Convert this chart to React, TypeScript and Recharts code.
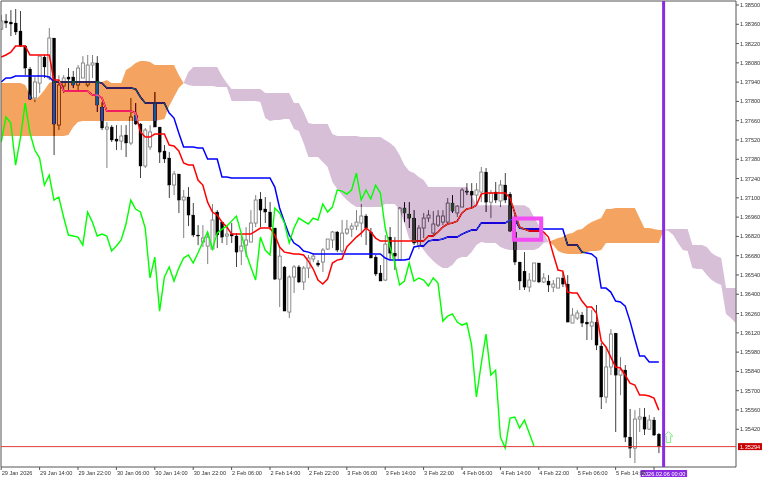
import * as React from "react"
import {
  Area,
  Bar,
  ComposedChart,
  Label,
  Line,
  ReferenceArea,
  ReferenceDot,
  ReferenceLine,
  XAxis,
  YAxis,
} from "recharts"

// USDCAD-ish H1 candles
const opens = [
  1.38325, 1.38384, 1.38376, 1.38369, 1.38311, 1.38202, 1.38035, 1.37825, 1.37933, 1.38122,
  1.3797, 1.3826, 1.37628, 1.37912, 1.37977, 1.37977, 1.37919, 1.3797, 1.37919, 1.38064,
  1.38079, 1.37759, 1.37599, 1.37614, 1.37527, 1.37512, 1.37556, 1.37498, 1.37701, 1.37636,
  1.37331, 1.37469, 1.37781, 1.37614, 1.3744, 1.37389, 1.37193, 1.37273, 1.37084, 1.37106,
  1.36975, 1.3683, 1.36779, 1.3675, 1.36728, 1.36997, 1.36924, 1.36823, 1.36837, 1.36823,
  1.36714, 1.36757, 1.36779, 1.36917, 1.37091, 1.37019, 1.36997, 1.36881, 1.3651, 1.36598,
  1.36271, 1.36525, 1.36598, 1.36489, 1.3659, 1.36656, 1.36627, 1.36634, 1.36728, 1.36794,
  1.36852, 1.36714, 1.36844, 1.36873, 1.36895, 1.36917, 1.36968, 1.36852, 1.3667, 1.36554,
  1.36503, 1.36815, 1.36699, 1.36648, 1.37026, 1.36982, 1.36953, 1.36757, 1.36881, 1.36953,
  1.36844, 1.36902, 1.36924, 1.36924, 1.37062, 1.3699, 1.37033, 1.37149, 1.37149, 1.3712,
  1.37142, 1.37287, 1.37069, 1.37142, 1.37077, 1.37193, 1.37127, 1.36852, 1.36634, 1.36568,
  1.36452, 1.36496, 1.36627, 1.36489, 1.36496, 1.36452, 1.36445, 1.36518, 1.36474, 1.36191,
  1.36227, 1.36249, 1.36198, 1.36169, 1.36198, 1.36024, 1.35654, 1.35872, 1.36118, 1.35813,
  1.3585, 1.35363, 1.35283, 1.35494, 1.35509, 1.35421, 1.35487, 1.35385,
]
const highs = [
  1.38427, 1.38434, 1.38463, 1.38471, 1.38456, 1.38209, 1.3805, 1.37977, 1.38129, 1.38137,
  1.38333, 1.3826, 1.37991, 1.37991, 1.38042, 1.38021, 1.38064, 1.38129, 1.38137, 1.38137,
  1.38129, 1.37795, 1.3765, 1.37628, 1.37628, 1.37628, 1.37628, 1.37825, 1.37788, 1.37643,
  1.37607, 1.37628, 1.37868, 1.37614, 1.37483, 1.37432, 1.37295, 1.37273, 1.37157, 1.37178,
  1.37062, 1.36902, 1.36902, 1.36852, 1.37055, 1.37011, 1.36924, 1.36902, 1.36917, 1.36844,
  1.36844, 1.36888, 1.37011, 1.3712, 1.37142, 1.37106, 1.37069, 1.36881, 1.36743, 1.36605,
  1.36539, 1.36612, 1.36612, 1.36605, 1.36685, 1.36699, 1.36648, 1.36735, 1.36801, 1.36859,
  1.36859, 1.36939, 1.36939, 1.36917, 1.37011, 1.37055, 1.36982, 1.36881, 1.36685, 1.36612,
  1.3683, 1.36888, 1.36815, 1.37033, 1.37069, 1.37069, 1.37011, 1.36902, 1.3699, 1.37011,
  1.37004, 1.37011, 1.37011, 1.37099, 1.3712, 1.37047, 1.37171, 1.37207, 1.37207, 1.37207,
  1.37324, 1.37316, 1.37157, 1.37215, 1.37229, 1.3728, 1.37142, 1.36975, 1.36634, 1.36706,
  1.36554, 1.36627, 1.36627, 1.36554, 1.36539, 1.36503, 1.36518, 1.36561, 1.36539, 1.363,
  1.36285, 1.36271, 1.36307, 1.36285, 1.36322, 1.36046, 1.36017, 1.36147, 1.36118, 1.35944,
  1.35886, 1.35567, 1.35559, 1.35574, 1.35574, 1.35523, 1.35509, 1.35392,
]
const lows = [
  1.38318, 1.38333, 1.38275, 1.38282, 1.38195, 1.37991, 1.3781, 1.37795, 1.37861, 1.3797,
  1.37955, 1.37411, 1.37592, 1.37861, 1.37883, 1.37897, 1.37883, 1.3797, 1.37904, 1.3797,
  1.37723, 1.37592, 1.37316, 1.37505, 1.37447, 1.37447, 1.37396, 1.37483, 1.37628, 1.37244,
  1.37316, 1.37447, 1.37614, 1.37353, 1.37353, 1.37099, 1.3712, 1.3699, 1.36808, 1.36895,
  1.36815, 1.36757, 1.36743, 1.36619, 1.36721, 1.36735, 1.36772, 1.36757, 1.36772, 1.36598,
  1.36612, 1.3667, 1.36779, 1.36888, 1.36888, 1.36917, 1.36866, 1.36503, 1.36307, 1.36278,
  1.36227, 1.36409, 1.36481, 1.36431, 1.36518, 1.36634, 1.36598, 1.36561, 1.36721, 1.36735,
  1.36706, 1.36699, 1.3683, 1.36815, 1.36866, 1.36815, 1.36757, 1.36663, 1.36532, 1.36496,
  1.36496, 1.36648, 1.36576, 1.36648, 1.36924, 1.36881, 1.36757, 1.36728, 1.36808, 1.36924,
  1.3683, 1.36888, 1.36902, 1.36917, 1.3699, 1.36961, 1.37033, 1.3712, 1.37033, 1.37047,
  1.37069, 1.36997, 1.36953, 1.37062, 1.37033, 1.37062, 1.36852, 1.36612, 1.36431, 1.36431,
  1.36416, 1.36489, 1.36481, 1.36481, 1.36416, 1.36416, 1.36445, 1.36452, 1.36198, 1.36191,
  1.36213, 1.36162, 1.36068, 1.36068, 1.35995, 1.35567, 1.3561, 1.35813, 1.354, 1.35668,
  1.35327, 1.35211, 1.35175, 1.354, 1.35378, 1.35414, 1.35371, 1.35247,
]
const closes = [
  1.38384, 1.38369, 1.38362, 1.38304, 1.38202, 1.38042, 1.37817, 1.37941, 1.38129, 1.3805,
  1.3826, 1.37636, 1.37919, 1.3797, 1.37962, 1.37919, 1.38042, 1.38079, 1.38064, 1.38079,
  1.37774, 1.37607, 1.37614, 1.3752, 1.37512, 1.37549, 1.37498, 1.37687, 1.37636, 1.37331,
  1.37592, 1.37578, 1.37614, 1.37432, 1.37382, 1.37193, 1.37273, 1.37084, 1.37106, 1.36975,
  1.3683, 1.36823, 1.36808, 1.36815, 1.36939, 1.3683, 1.36815, 1.36837, 1.36823, 1.36706,
  1.3675, 1.36794, 1.36917, 1.37084, 1.37011, 1.36997, 1.36888, 1.3651, 1.36677, 1.36278,
  1.36525, 1.36598, 1.36489, 1.3659, 1.36663, 1.36677, 1.36612, 1.36721, 1.36801, 1.36852,
  1.36721, 1.36844, 1.36873, 1.36895, 1.36924, 1.36968, 1.36881, 1.36663, 1.36547, 1.36496,
  1.36764, 1.36699, 1.36677, 1.37026, 1.3699, 1.36953, 1.36772, 1.36881, 1.36953, 1.36975,
  1.3691, 1.36968, 1.36968, 1.37062, 1.37004, 1.3704, 1.37157, 1.37142, 1.3712, 1.37157,
  1.37287, 1.37069, 1.37135, 1.37084, 1.37193, 1.37084, 1.36859, 1.36634, 1.36496, 1.36452,
  1.36503, 1.36627, 1.36489, 1.36518, 1.36467, 1.36474, 1.36518, 1.36474, 1.36198, 1.36249,
  1.36264, 1.36191, 1.36184, 1.36198, 1.36031, 1.35654, 1.35872, 1.36111, 1.35813, 1.3585,
  1.35363, 1.35283, 1.35494, 1.35509, 1.35421, 1.35487, 1.35378, 1.35294,
]
const tenkan = [
  1.38122, 1.38137, 1.38158, 1.38202, 1.38202, 1.38202, 1.38137, 1.38137, 1.38137, 1.38137,
  1.38137, 1.37955, 1.37955, 1.37875, 1.37875, 1.37875, 1.37875, 1.37875, 1.37875, 1.37846,
  1.37846, 1.37825, 1.3773, 1.3773, 1.3773, 1.3773, 1.3773, 1.3773, 1.37716, 1.37578,
  1.37541, 1.37541, 1.37563, 1.37563, 1.37563, 1.37483, 1.37476, 1.3744, 1.37353, 1.37338,
  1.37338, 1.37229, 1.37193, 1.37069, 1.36997, 1.36975, 1.36924, 1.36888, 1.36837, 1.36837,
  1.36837, 1.36837, 1.36837, 1.36859, 1.36881, 1.36881, 1.36881, 1.3683, 1.36743, 1.36706,
  1.36699, 1.36692, 1.36692, 1.36685, 1.36641, 1.36583, 1.36503, 1.36474, 1.3651, 1.36627,
  1.36648, 1.36656, 1.36743, 1.36779, 1.36815, 1.36844, 1.36881, 1.36852, 1.36808, 1.36786,
  1.36786, 1.36786, 1.36786, 1.36786, 1.36786, 1.36786, 1.36786, 1.36786, 1.36786, 1.36823,
  1.36823, 1.36852, 1.36888, 1.3691, 1.36917, 1.36931, 1.3699, 1.37019, 1.37026, 1.37047,
  1.37127, 1.37135, 1.37135, 1.37135, 1.37135, 1.37135, 1.37099, 1.3699, 1.36888, 1.36873,
  1.36859, 1.36859, 1.36859, 1.36852, 1.36815, 1.36692, 1.36576, 1.36568, 1.36416, 1.36409,
  1.36409, 1.36351, 1.36307, 1.36307, 1.36264, 1.3606, 1.36017, 1.35944, 1.35872, 1.35865,
  1.35813, 1.35755, 1.35741, 1.35668, 1.35668, 1.35661, 1.35646, 1.35559,
]
const kijun = [
  1.37941, 1.3797, 1.3797, 1.37984, 1.37984, 1.37984, 1.37984, 1.37984, 1.37984, 1.37984,
  1.37977, 1.37941, 1.37941, 1.37941, 1.37941, 1.37941, 1.37941, 1.37941, 1.37941, 1.37941,
  1.37941, 1.37933, 1.37897, 1.37897, 1.37897, 1.37897, 1.37897, 1.37897, 1.3789, 1.37832,
  1.37788, 1.37788, 1.37788, 1.37788, 1.37788, 1.37716, 1.37679, 1.3757, 1.37469, 1.37469,
  1.37469, 1.37462, 1.37462, 1.37382, 1.37382, 1.37382, 1.37251, 1.37251, 1.37244, 1.37244,
  1.37244, 1.37244, 1.37244, 1.37244, 1.37244, 1.37244, 1.37244, 1.37178, 1.37026, 1.36924,
  1.3683, 1.36772, 1.3675, 1.36714, 1.36706, 1.36692, 1.36692, 1.36692, 1.36692, 1.36692,
  1.36692, 1.36692, 1.36692, 1.36692, 1.36692, 1.36692, 1.36692, 1.36692, 1.36692, 1.36692,
  1.36663, 1.36648, 1.36648, 1.36648, 1.36648, 1.36656, 1.36743, 1.3675, 1.3675, 1.36786,
  1.36794, 1.36794, 1.36801, 1.36815, 1.36815, 1.36815, 1.36837, 1.36852, 1.36866, 1.36866,
  1.36917, 1.36917, 1.36917, 1.36917, 1.36917, 1.36917, 1.36939, 1.36946, 1.36881, 1.36873,
  1.36873, 1.36873, 1.36873, 1.36873, 1.36873, 1.36873, 1.36873, 1.36873, 1.36757, 1.36757,
  1.36757, 1.36706, 1.36699, 1.36692, 1.36663, 1.36445, 1.36445, 1.36416, 1.36351, 1.36344,
  1.36314, 1.36205, 1.36075, 1.35952, 1.35952, 1.35908, 1.35908, 1.35908,
]
// chikou stops 26 bars before the last candle
const chikou = [
  1.37505, 1.37687, 1.37643, 1.37338, 1.37534, 1.37788, 1.3757, 1.37447, 1.37389, 1.37193,
  1.37265, 1.37084, 1.37106, 1.36961, 1.3683, 1.36823, 1.36815, 1.36757, 1.36997, 1.36924,
  1.36823, 1.36837, 1.36823, 1.36714, 1.3675, 1.36794, 1.3691, 1.37084, 1.37019, 1.36997,
  1.36881, 1.36518, 1.3667, 1.36278, 1.36525, 1.36598, 1.36496, 1.3659, 1.36663, 1.36685,
  1.36627, 1.36699, 1.36779, 1.36852, 1.36728, 1.36844, 1.36873, 1.36895, 1.36931, 1.36968,
  1.36844, 1.36699, 1.36598, 1.36503, 1.36815, 1.36721, 1.36685, 1.37026, 1.3699, 1.36917,
  1.36772, 1.36881, 1.36953, 1.36931, 1.3691, 1.36953, 1.36939, 1.37055, 1.36997, 1.37033,
  1.37157, 1.37149, 1.37127, 1.37157, 1.3728, 1.37084, 1.37157, 1.37091, 1.37193, 1.37135,
  1.36881, 1.36743, 1.36627, 1.36467, 1.36496, 1.36627, 1.36496, 1.36518, 1.36503, 1.3646,
  1.36518, 1.36481, 1.36205, 1.36241, 1.36257, 1.36198, 1.36176, 1.36191, 1.36031, 1.35654,
  1.35893, 1.36111, 1.35813, 1.3585, 1.35363, 1.35283, 1.35501, 1.35509, 1.35429, 1.35487,
  1.35392, 1.35298,
]
// senkou spans run 16 bars past the last candle, up to the right edge
const senkouA = [
  1.37933, 1.37933, 1.37933, 1.37933, 1.37933, 1.37919, 1.37846, 1.3781, 1.37839, 1.37883,
  1.37933, 1.37948, 1.37948, 1.37948, 1.37948, 1.37948, 1.37948, 1.37948, 1.37948, 1.37948,
  1.37948, 1.37941, 1.37955, 1.37933, 1.37933, 1.37933, 1.38028, 1.3805, 1.38079, 1.38093,
  1.38093, 1.38086, 1.38064, 1.38064, 1.38064, 1.38064, 1.38064, 1.37991, 1.37933, 1.37919,
  1.37912, 1.37912, 1.37912, 1.37912, 1.37912, 1.37904, 1.37904, 1.37904, 1.37803, 1.37803,
  1.37803, 1.37803, 1.37803, 1.37803, 1.37795, 1.37679, 1.37658, 1.37665, 1.37665, 1.37672,
  1.37672, 1.37599, 1.37585, 1.37498, 1.37396, 1.37396, 1.37396, 1.3736, 1.37323, 1.37215,
  1.37164, 1.3712, 1.37084, 1.37055, 1.37033, 1.37033, 1.37033, 1.37033, 1.37033, 1.37033,
  1.37055, 1.37055, 1.37055, 1.37011, 1.36917, 1.36801, 1.36779, 1.36765, 1.36721, 1.36677,
  1.36641, 1.36612, 1.3659, 1.3659, 1.36612, 1.36656, 1.3667, 1.3667, 1.36706, 1.36757,
  1.36779, 1.36772, 1.36772, 1.36772, 1.36743, 1.36728, 1.36721, 1.36721, 1.36721, 1.36721,
  1.36721, 1.36721, 1.36735, 1.36772, 1.36779, 1.36794, 1.36808, 1.36815, 1.36837, 1.36844,
  1.36866, 1.36873, 1.36902, 1.36924, 1.36939, 1.36953, 1.37019, 1.37019, 1.37026, 1.37026,
  1.37026, 1.37026, 1.37026, 1.36953, 1.36881, 1.36881, 1.36873, 1.36866, 1.36866, 1.36859,
  1.3683, 1.36772, 1.36721, 1.36714, 1.3659, 1.36583, 1.36583, 1.36539, 1.36503, 1.36481,
  1.36467, 1.36256, 1.36227, 1.36191,
]
const senkouB = [
  1.37549, 1.37549, 1.37549, 1.37549, 1.37549, 1.37549, 1.37549, 1.37549, 1.37549, 1.37549,
  1.37549, 1.37549, 1.37549, 1.37549, 1.37556, 1.37614, 1.3765, 1.37658, 1.37658, 1.37658,
  1.37658, 1.37658, 1.37658, 1.37658, 1.37658, 1.37658, 1.37658, 1.37658, 1.37658, 1.37658,
  1.37658, 1.37658, 1.37658, 1.37665, 1.37672, 1.37766, 1.37832, 1.37897, 1.37933, 1.38013,
  1.3805, 1.3805, 1.3805, 1.3805, 1.3805, 1.3805, 1.37984, 1.37933, 1.3789, 1.3789,
  1.3789, 1.3789, 1.3789, 1.3789, 1.3789, 1.37861, 1.37861, 1.37861, 1.37861, 1.37861,
  1.37861, 1.37788, 1.37788, 1.37723, 1.37643, 1.37636, 1.37636, 1.37636, 1.37636, 1.37563,
  1.37549, 1.37549, 1.37549, 1.37549, 1.37549, 1.37541, 1.37541, 1.37541, 1.37541, 1.37541,
  1.3752, 1.37498, 1.37469, 1.37411, 1.37338, 1.37295, 1.3728, 1.37251, 1.37229, 1.37178,
  1.37178, 1.37178, 1.37178, 1.37178, 1.37178, 1.37178, 1.37178, 1.37178, 1.3712, 1.37047,
  1.37047, 1.37047, 1.37047, 1.37047, 1.37047, 1.37047, 1.37047, 1.37047, 1.37047, 1.37047,
  1.37026, 1.36961, 1.36902, 1.36852, 1.36779, 1.36757, 1.36714, 1.36699, 1.36692, 1.36692,
  1.36692, 1.36692, 1.36706, 1.36714, 1.36714, 1.36721, 1.36772, 1.36772, 1.36772, 1.36772,
  1.36772, 1.36772, 1.36772, 1.36772, 1.36772, 1.36772, 1.36772, 1.36772, 1.36866, 1.36873,
  1.36873, 1.36873, 1.36873, 1.36873, 1.36757, 1.36757, 1.36757, 1.36743, 1.36699, 1.36677,
  1.36663, 1.36445, 1.36445, 1.36445,
]

const priceTicks = [
  1.385, 1.3836, 1.3822, 1.3808, 1.3794, 1.378, 1.3766, 1.3752, 1.3738, 1.3724, 1.371, 1.3696,
  1.3682, 1.3668, 1.3654, 1.364, 1.3626, 1.3612, 1.3598, 1.3584, 1.357, 1.3556, 1.3542,
]
const timeTicks = [0, 8, 16, 24, 32, 40, 48, 56, 64, 72, 80, 88, 96, 104, 112, 120, 128, 136]
// the last tick's text sits under the cursor tag
const timeLabels = [
  "29 Jan 2026", "29 Jan 14:00", "29 Jan 22:00", "30 Jan 06:00", "30 Jan 14:00", "30 Jan 22:00",
  "2 Feb 06:00", "2 Feb 14:00", "2 Feb 22:00", "3 Feb 06:00", "3 Feb 14:00", "3 Feb 22:00",
  "4 Feb 06:00", "4 Feb 14:00", "4 Feb 22:00", "5 Feb 06:00", "5 Feb 14:00", "",
]

const lastPrice = 1.35294
const cursorBar = 138
const cursorLabel = "2026.02.06 00:00"
const arrowBar = 139
const arrowPrice = 1.35363
const boxBars = [106.8, 112.5]
const boxPrices = [1.3695, 1.36795]

const xDomain = [-0.04, 153.08]
const yDomain = [1.35146, 1.38529]

const FONT = "'Liberation Sans', sans-serif"
const AXIS = "#555555"
const TEXT = "#333333"

const data = senkouA.map((a, i) => {
  const b = senkouB[i]
  return {
    idx: i,
    open: opens[i],
    close: closes[i],
    high: highs[i],
    low: lows[i],
    range: i < highs.length ? [lows[i], highs[i]] : null,
    tenkan: i < tenkan.length ? tenkan[i] : null,
    kijun: i < kijun.length ? kijun[i] : null,
    chikou: i < chikou.length ? chikou[i] : null,
    // MT5 fills the cloud in XOR, so the inverted colour goes in with a difference blend
    bull: a >= b ? [b, a] : null,
    bear: a <= b ? [a, b] : null,
  }
})

function Candle(props: any) {
  const { x, width, y, height, payload } = props
  if (payload.high == null) return null
  const cx = x + width / 2
  const scale = height / (payload.high - payload.low)
  const up = payload.close >= payload.open
  const top = y + (payload.high - Math.max(payload.open, payload.close)) * scale
  const bodyH = Math.max(Math.abs(payload.open - payload.close) * scale, 1)
  return (
    <g>
      <line x1={cx} x2={cx} y1={y} y2={y + height} stroke={up ? "#808080" : "#404040"} strokeWidth={1} />
      <rect
        x={cx - 1.5}
        y={top}
        width={3}
        height={bodyH}
        fill={up ? "#ffffff" : "#000000"}
        stroke={up ? "#808080" : "#000000"}
        strokeWidth={up ? 0.9 : 0.3}
      />
    </g>
  )
}

function TimeTick(props: any) {
  const { x, y, payload } = props
  const label = timeLabels[timeTicks.indexOf(payload.value)]
  return (
    <g>
      <line x1={x} x2={x} y1={y} y2={y + 3} stroke={AXIS} />
      <text x={x + 0.5} y={y + 7.8} fontSize={5.6} fontFamily={FONT} fill={TEXT}>
        {label}
      </text>
    </g>
  )
}

function PriceTag(props: any) {
  const { x, y, width } = props.viewBox
  const left = x + width + 2
  return (
    <g>
      <rect x={left} y={y - 3.5} width={24} height={7} fill="#c80000" />
      <text x={left + 2} y={y + 2} fontSize={5.6} fontFamily={FONT} fill="#ffffff">
        {lastPrice.toFixed(5)}
      </text>
    </g>
  )
}

function CursorTag(props: any) {
  const { x, y, height } = props.viewBox
  return (
    <g>
      <rect x={x - 23} y={y + height + 3} width={46.5} height={7} fill="#8a2be2" />
      <text x={x} y={y + height + 8.6} textAnchor="middle" fontSize={5.6} fontFamily={FONT} fill="#ffffff">
        {cursorLabel}
      </text>
    </g>
  )
}

function UpArrow(props: any) {
  const { cx, cy } = props
  const d = `M${cx} ${cy - 5.5}L${cx + 4.5} ${cy - 1}L${cx + 2.2} ${cy - 1}L${cx + 2.2} ${cy + 5.5}L${cx - 2.2} ${cy + 5.5}L${cx - 2.2} ${cy - 1}L${cx - 4.5} ${cy - 1}Z`
  return <path d={d} fill="#ffffff" stroke="#7cf07c" strokeWidth={1} />
}

export default function App() {
  return (
    <div style={{ position: "absolute", left: 0, top: 0, width: 768, height: 480, background: "#ffffff" }}>
      <style>{`.cloud-layer { mix-blend-mode: difference; }`}</style>
      <ComposedChart
        width={768}
        height={480}
        data={data}
        margin={{ top: 1, right: 0, bottom: 0, left: 1 }}
        style={{ background: "#ffffff" }}
      >
        <ReferenceArea
          x1={xDomain[0]}
          x2={xDomain[1]}
          y1={yDomain[0]}
          y2={yDomain[1]}
          fill="#ffffff"
          fillOpacity={1}
          stroke="none"
          zIndex={-200}
        />
        <XAxis
          type="number"
          dataKey="idx"
          domain={xDomain}
          allowDataOverflow
          ticks={timeTicks}
          interval={0}
          height={13}
          tick={TimeTick}
          tickLine={false}
          tickSize={0}
          tickMargin={0}
          axisLine={{ stroke: AXIS }}
        />
        <YAxis
          orientation="right"
          domain={yDomain}
          allowDataOverflow
          ticks={priceTicks}
          interval={0}
          width={32}
          tickSize={3}
          tickMargin={1}
          tickFormatter={(v: number) => v.toFixed(5)}
          tick={{ fontSize: 5.6, fontFamily: FONT, fill: TEXT }}
          tickLine={{ stroke: AXIS }}
          axisLine={{ stroke: AXIS }}
        />
        {/* draw order matters: candles, tenkan and kijun go under the cloud's blend, chikou over it */}
        <Bar dataKey="range" barSize={3} shape={Candle} zIndex={100} isAnimationActive={false} />
        <Line dataKey="kijun" type="linear" stroke="#0000ff" strokeWidth={1.5} dot={false} activeDot={false} zIndex={200} isAnimationActive={false} />
        <Line dataKey="tenkan" type="linear" stroke="#ff0000" strokeWidth={1.5} dot={false} activeDot={false} zIndex={200} isAnimationActive={false} />
        <Area
          className="cloud-layer"
          dataKey="bull"
          type="linear"
          fill="#0b5b9f"
          fillOpacity={1}
          stroke="none"
          dot={false}
          activeDot={false}
          zIndex={450}
          isAnimationActive={false}
        />
        <Area
          className="cloud-layer"
          dataKey="bear"
          type="linear"
          fill="#274027"
          fillOpacity={1}
          stroke="none"
          dot={false}
          activeDot={false}
          zIndex={450}
          isAnimationActive={false}
        />
        <Line dataKey="chikou" type="linear" stroke="#00ff00" strokeWidth={1.4} dot={false} activeDot={false} zIndex={480} isAnimationActive={false} />
        <ReferenceLine y={yDomain[1]} stroke={AXIS} zIndex={500} />
        <ReferenceLine x={xDomain[0]} stroke={AXIS} zIndex={500} />
        <ReferenceLine y={lastPrice} stroke="#e03c3c" strokeWidth={1} zIndex={600}>
          <Label content={PriceTag} />
        </ReferenceLine>
        <ReferenceArea
          x1={boxBars[0]}
          x2={boxBars[1]}
          y1={boxPrices[1]}
          y2={boxPrices[0]}
          fill="none"
          fillOpacity={0}
          stroke="#f24cf2"
          strokeWidth={4}
          zIndex={600}
        />
        <ReferenceDot x={arrowBar} y={arrowPrice} shape={UpArrow} zIndex={600} />
        <ReferenceLine x={cursorBar} stroke="#8a2be2" strokeWidth={3} zIndex={650}>
          <Label content={CursorTag} />
        </ReferenceLine>
      </ComposedChart>
    </div>
  )
}
